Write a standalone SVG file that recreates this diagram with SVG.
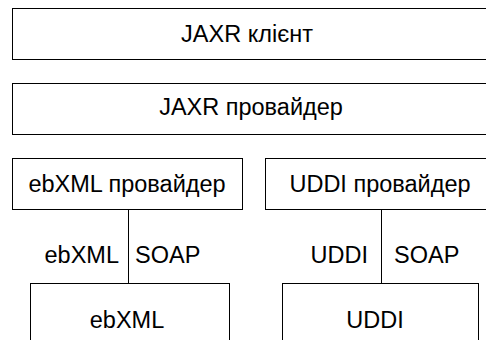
<svg xmlns="http://www.w3.org/2000/svg" width="486" height="340" viewBox="0 0 486 340">
  <style>
    .box { fill: #ffffff; stroke: #000000; stroke-width: 1; }
    .lbl { font-family: "Liberation Sans", Arial, sans-serif; font-size: 23.5px; fill: #000000; }
    .mid { text-anchor: middle; }
    .end { text-anchor: end; }
    .link { stroke: #000000; stroke-width: 1; fill: none; }
  </style>
  <rect width="486" height="340" fill="#ffffff"/>

  <!-- connectors between providers and registries -->
  <g id="connectors">
    <line class="link" x1="128.5" y1="209" x2="128.5" y2="283"/>
    <line class="link" x1="381.5" y1="209" x2="381.5" y2="283"/>
    <text class="lbl end" x="119" y="263">ebXML</text>
    <text class="lbl" x="135" y="263">SOAP</text>
    <text class="lbl end" x="368" y="263">UDDI</text>
    <text class="lbl" x="394" y="263">SOAP</text>
  </g>

  <g id="jaxr-client">
    <rect class="box" x="12.5" y="8.5" width="480" height="51"/>
    <text class="lbl mid" x="247" y="42">JAXR клієнт</text>
  </g>

  <g id="jaxr-provider">
    <rect class="box" x="12.5" y="83.5" width="480" height="51"/>
    <text class="lbl mid" x="251" y="115">JAXR провайдер</text>
  </g>

  <g id="ebxml-provider">
    <rect class="box" x="12.5" y="158.5" width="230" height="51"/>
    <text class="lbl mid" x="127" y="192">ebXML провайдер</text>
  </g>

  <g id="uddi-provider">
    <rect class="box" x="265.5" y="158.5" width="230" height="51"/>
    <text class="lbl mid" x="380" y="192">UDDI провайдер</text>
  </g>

  <g id="ebxml-registry">
    <rect class="box" x="30.5" y="283.5" width="199" height="70"/>
    <text class="lbl mid" x="127" y="328">ebXML</text>
  </g>

  <g id="uddi-registry">
    <rect class="box" x="282.5" y="283.5" width="196" height="70"/>
    <text class="lbl mid" x="375" y="328">UDDI</text>
  </g>
</svg>
